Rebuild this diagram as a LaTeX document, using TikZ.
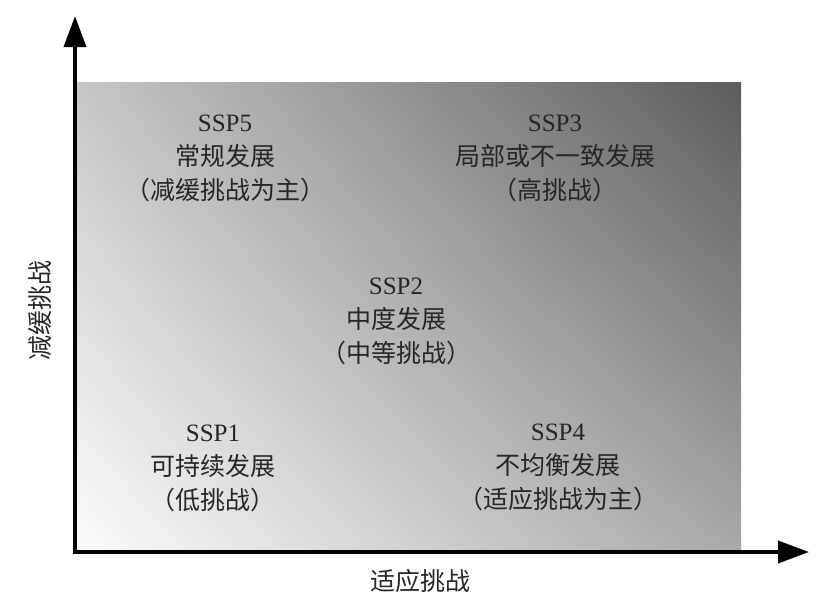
\documentclass[tikz,border=0pt]{standalone}
\usepackage{fontspec}
\setmainfont{Liberation Serif}
\newfontfamily\cjk{Noto Sans CJK SC}
\usetikzlibrary{arrows.meta,shadings}
\tikzset{
  block/.style={align=center, text=black!85, inner sep=0pt,
    font=\fontsize{25}{34}\selectfont},
  axislabel/.style={text=black!85, inner sep=0pt,
    font=\cjk\fontsize{25}{30}\selectfont},
  axisline/.style={line width=3.6pt, line join=miter,
    {Triangle[length=31pt,width=22pt]}-{Triangle[length=31pt,width=22pt]}}
}
\begin{document}
\begin{tikzpicture}[x=1pt,y=-1pt]
\useasboundingbox (0,0) rectangle (827,595);
% background gradient panel
\shade[upper left=black!22, upper right=black!64, lower left=black!1, lower right=black!34]
  (75,82) rectangle (741,552);
% axes
\coordinate (O) at (75,552);
\coordinate (ytip) at (75,16);
\coordinate (xtip) at (809,552);
\draw[axisline] (ytip) -- (O) -- (xtip);
% blocks
\node[block] (ssp5) at (225,158) {SSP5\\{\cjk 常规发展}\\{\cjk （减缓挑战为主）}};
\node[block] (ssp3) at (555,158) {SSP3\\{\cjk 局部或不一致发展}\\{\cjk （高挑战）}};
\node[block] (ssp2) at (396,321) {SSP2\\{\cjk 中度发展}\\{\cjk （中等挑战）}};
\node[block] (ssp1) at (213,468) {SSP1\\{\cjk 可持续发展}\\{\cjk （低挑战）}};
\node[block] (ssp4) at (558,467) {SSP4\\{\cjk 不均衡发展}\\{\cjk （适应挑战为主）}};
% axis labels
\node[axislabel] (xlab) at (420,581) {适应挑战};
\node[axislabel, rotate=90] (ylab) at (40,310) {减缓挑战};
\end{tikzpicture}
\end{document}
